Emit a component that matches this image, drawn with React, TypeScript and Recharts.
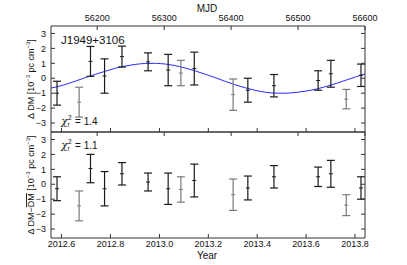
import React from 'react';
import { ComposedChart, Line, Scatter, ErrorBar, XAxis, YAxis } from 'recharts';

// epochs (MJD) of the DM measurements
const MJD = [56140, 56173, 56190, 56211, 56237, 56276, 56306, 56325, 56345, 56403, 56425, 56464, 56530, 56549, 56572, 56594];
// top panel: Delta DM and its uncertainty
const DM = [-1.0, -1.6, 1.13, 0.15, 1.45, 1.1, 0.55, 0.35, 0.65, -1.1, -0.8, -0.5, -0.15, 0.3, -1.4, 0.2];
const DM_ERR = [0.8, 1.0, 1.0, 1.15, 0.7, 0.6, 1.05, 0.85, 1.1, 1.05, 0.8, 0.75, 0.65, 0.9, 0.65, 0.75];
// bottom panel: residuals after removing the mean
const RES = [-0.3, -1.45, 1.05, -0.3, 0.7, 0.15, -0.3, -0.35, 0.25, -0.7, -0.25, 0.5, 0.5, 0.7, -1.4, -0.25];
const RES_ERR = [0.8, 1.0, 0.95, 1.15, 0.75, 0.6, 1.05, 0.85, 1.1, 1.05, 0.8, 0.75, 0.65, 0.9, 0.7, 0.75];
// measurements drawn in grey
const GREY = [1, 7, 9, 14];

// fitted sinusoid
const CURVE_MJD = [56131, 56150, 56167, 56185, 56197, 56212, 56227, 56242, 56257, 56272, 56287, 56302, 56317, 56332, 56347, 56362, 56377, 56392, 56407, 56422, 56437, 56452, 56467, 56482, 56497, 56512, 56527, 56542, 56557, 56572, 56587, 56600];
const CURVE_DM = [-0.66, -0.45, -0.2, 0.08, 0.26, 0.47, 0.67, 0.82, 0.93, 0.99, 1.0, 0.95, 0.84, 0.68, 0.48, 0.26, 0.03, -0.22, -0.45, -0.65, -0.82, -0.94, -1.0, -1.0, -0.95, -0.86, -0.73, -0.55, -0.35, -0.12, 0.1, 0.3];

const MJD_TICKS = [56200, 56300, 56400, 56500, 56600];
const YEAR_TICKS = [56146.6, 56219.8, 56293, 56366, 56439, 56512, 56585];
const YEAR_LABELS = ['2012.6', '2012.8', '2013.0', '2013.2', '2013.4', '2013.6', '2013.8'];
const Y_TICKS = [-3, -2, -1, 0, 1, 2, 3];

const DOMAIN_X: [number, number] = [56131, 56600];
const DOMAIN_Y: [number, number] = [-3.6, 3.5];
const FONT = 'Liberation Sans, Arial, sans-serif';
const AXIS = '#333';
const BLACK = '#1a1a1a';
const GREY_C = '#7a7a7a';

const points = (vals: number[], errs: number[], grey: boolean) =>
    MJD.map((m, i) => ({ mjd: m, y: vals[i], err: errs[i] })).filter((_, i) => GREY.includes(i) === grey);

const curve = CURVE_MJD.map((m, i) => ({ mjd: m, y: CURVE_DM[i] }));

const tickStyle = { fontSize: 9, fill: '#111', fontFamily: FONT };
const fmtY = (v: number) => (v < 0 ? '\u2212' + Math.abs(v) : String(v));
const yearFmt = (v: number) => YEAR_LABELS[YEAR_TICKS.indexOf(v)] ?? '';

const centre = (color: string) => (props: any) => (
    <line x1={props.cx - 2} x2={props.cx + 2} y1={props.cy} y2={props.cy} stroke={color} strokeWidth={1} />
);

const series = (vals: number[], errs: number[]) => [
    <Scatter key="b" xAxisId="a" yAxisId="l" data={points(vals, errs, false)} dataKey="y" isAnimationActive={false} shape={centre(BLACK)}>
        <ErrorBar dataKey="err" direction="y" width={4} stroke={BLACK} strokeWidth={1.2} isAnimationActive={false} />
    </Scatter>,
    <Scatter key="g" xAxisId="a" yAxisId="l" data={points(vals, errs, true)} dataKey="y" isAnimationActive={false} shape={centre(GREY_C)}>
        <ErrorBar dataKey="err" direction="y" width={4} stroke={GREY_C} strokeWidth={1.2} isAnimationActive={false} />
    </Scatter>,
];

const frameY = [
    <YAxis key="l" yAxisId="l" orientation="left" width={51} type="number" domain={DOMAIN_Y} ticks={Y_TICKS} allowDataOverflow
        tickSize={-4} tickMargin={9} tickFormatter={fmtY} tick={tickStyle} stroke={AXIS} interval={0} />,
    <YAxis key="r" yAxisId="r" orientation="right" width={42} type="number" domain={DOMAIN_Y} ticks={Y_TICKS} allowDataOverflow
        tickSize={-4} tickFormatter={() => ''} stroke={AXIS} interval={0} />,
];

const Chi = ({ y, value }: { y: number; value: string }) => (
    <g fill="#111">
        <text x={61} y={y} fontSize={11} fontStyle="italic" fontFamily="DejaVu Serif, serif">χ</text>
        <text x={67.5} y={y + 2} fontSize={6.5}>r</text>
        <text x={68} y={y - 5} fontSize={6.5}>2</text>
        <text x={75} y={y} fontSize={10}>= {value}</text>
    </g>
);

export default function App() {
    return (
        <div style={{ position: 'absolute', left: 0, top: 0, width: 407, height: 265, background: '#fff' }}>
            <div style={{ position: 'absolute', left: 0, top: 0 }}>
                <ComposedChart width={407} height={133} margin={{ top: 0, right: 0, bottom: 0, left: 0 }}>
                    <XAxis xAxisId="a" orientation="top" height={26} type="number" dataKey="mjd" domain={DOMAIN_X} ticks={MJD_TICKS}
                        allowDataOverflow tickSize={-4} tickMargin={9} tick={tickStyle} stroke={AXIS} interval={0} />
                    <XAxis xAxisId="b" orientation="bottom" height={1} type="number" dataKey="mjd" domain={DOMAIN_X} ticks={YEAR_TICKS}
                        allowDataOverflow tickSize={-4} tickFormatter={() => ''} stroke={AXIS} interval={0} />
                    {frameY}
                    <Line xAxisId="a" yAxisId="l" data={curve} dataKey="y" type="monotone" stroke="#2a2aff" strokeWidth={1}
                        dot={false} isAnimationActive={false} />
                    {series(DM, DM_ERR)}
                </ComposedChart>
            </div>
            <div style={{ position: 'absolute', left: 0, top: 131 }}>
                <ComposedChart width={407} height={134} margin={{ top: 0, right: 0, bottom: 0, left: 0 }}>
                    <XAxis xAxisId="t" orientation="top" height={1} type="number" dataKey="mjd" domain={DOMAIN_X} ticks={MJD_TICKS}
                        allowDataOverflow tickSize={-4} tickFormatter={() => ''} stroke={AXIS} interval={0} />
                    <XAxis xAxisId="a" orientation="bottom" height={27} type="number" dataKey="mjd" domain={DOMAIN_X} ticks={YEAR_TICKS}
                        allowDataOverflow tickSize={-4} tickMargin={7} tick={tickStyle} tickFormatter={yearFmt} stroke={AXIS} interval={0} />
                    {frameY}
                    {series(RES, RES_ERR)}
                </ComposedChart>
            </div>
            <svg width={407} height={265} style={{ position: 'absolute', left: 0, top: 0, pointerEvents: 'none' }} fontFamily={FONT}>
                <text x={207} y={12} fontSize={10} textAnchor="middle" fill="#111">MJD</text>
                <text x={207} y={259} fontSize={10} textAnchor="middle" fill="#111">Year</text>
                <text x={61} y={44} fontSize={11.5} fill="#111">J1949+3106</text>
                <Chi y={125} value="1.4" />
                <Chi y={149} value="1.1" />
                <text transform="translate(34,79) rotate(-90)" fontSize={9} textAnchor="middle" fill="#111">
                    <tspan>Δ DM [10</tspan>
                    <tspan fontSize={6} dy={-4}>−3</tspan>
                    <tspan dy={4}> pc cm</tspan>
                    <tspan fontSize={6} dy={-4}>−3</tspan>
                    <tspan dy={4}>]</tspan>
                </text>
                <text transform="translate(34,185) rotate(-90)" fontSize={9} textAnchor="middle" fill="#111">
                    <tspan>Δ DM−</tspan>
                    <tspan style={{ textDecoration: 'overline' }}>DM</tspan>
                    <tspan> [10</tspan>
                    <tspan fontSize={6} dy={-4}>−3</tspan>
                    <tspan dy={4}> pc cm</tspan>
                    <tspan fontSize={6} dy={-4}>−3</tspan>
                    <tspan dy={4}>]</tspan>
                </text>
            </svg>
        </div>
    );
}
